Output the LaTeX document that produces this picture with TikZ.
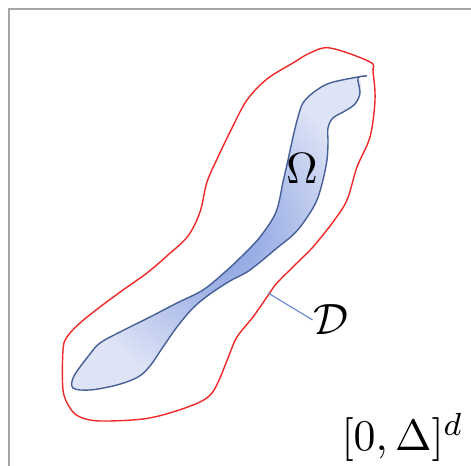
\documentclass[tikz,border=0pt]{standalone}
\usepackage{amsmath, amssymb}
\usepackage{xcolor}
\usetikzlibrary{positioning}

\definecolor{framegray}{RGB}{165,165,165}
\definecolor{setred}{RGB}{240,40,40}
\definecolor{setblue}{RGB}{70,95,150}
\definecolor{setlight}{RGB}{222,228,246}
\definecolor{setdark}{RGB}{128,153,222}
\definecolor{linkblue}{RGB}{110,140,210}

\begin{document}
\begin{tikzpicture}[
    x=0.25pt, y=-0.25pt,
    frame/.style={draw=framegray, line width=0.6pt},
    outer/.style={draw=setred, line width=0.35pt, smooth cycle, tension=0.55},
    inner/.style={draw=setblue, line width=0.35pt, smooth, tension=0.55},
    label/.style={inner sep=0pt, font=\fontsize{11}{13}\selectfont}
]
\useasboundingbox (0,0) rectangle (471,466);

% Box
\draw[frame] (9,466) |- (471,9);

% Neighbourhood D
\draw[outer] plot coordinates {
    (330,48) (370,62) (373,72) (375,100) (370,137) (357,167) (347,200)
    (333,222) (313,247) (297,263) (277,283) (267,297) (253,317) (237,337)
    (228,358) (220,378) (212,393) (200,402) (173,412) (143,419) (100,421)
    (80,417) (70,408) (63,390) (63,350) (67,337) (80,323) (100,307)
    (123,290) (147,273) (168,255) (188,236) (200,212) (207,182) (218,157)
    (232,128) (247,100) (267,79) (293,63) (310,53)};
\coordinate (dpt) at (268,293);

% Set Omega
\shade[inner color=setdark, outer color=setlight, smooth cycle, tension=0.55]
    plot coordinates {
    (358,78) (360,93) (355,104) (345,111) (333,118) (328,128) (328,143)
    (327,160) (323,180) (317,200) (308,216) (295,233) (277,248) (250,270)
    (230,281) (210,294) (193,308) (177,327) (163,347) (150,366) (138,377)
    (117,385) (90,390) (73,388) (74,376) (90,354) (100,343) (120,332)
    (150,317) (177,303) (203,290) (225,272) (240,258) (260,237) (276,212)
    (283,182) (288,160) (293,137) (298,117) (303,103) (314,92) (330,83)};
\draw[inner] plot coordinates {
    (367,76) (358,78) (360,93) (355,104) (345,111) (333,118) (328,128) (328,143)
    (327,160) (323,180) (317,200) (308,216) (295,233) (277,248) (250,270)
    (230,281) (210,294) (193,308) (177,327) (163,347) (150,366) (138,377)
    (117,385) (90,390) (73,388) (74,376) (90,354) (100,343) (120,332)
    (150,317) (177,303) (203,290) (225,272) (240,258) (260,237) (276,212)
    (283,182) (288,160) (293,137) (298,117) (303,103) (314,92) (330,83)
    (358,77) (367,76)};

% Labels
\node[label] (omega) at (302,169) {$\Omega$};
\node[label] (dom) at (331,320) {$\mathcal{D}$};
\node[label, anchor=base east] (cube) at (464,451) {$[0,\Delta]^d$};

\draw[draw=linkblue, line width=0.3pt] (dpt) -- (dom.west);

\end{tikzpicture}
\end{document}
